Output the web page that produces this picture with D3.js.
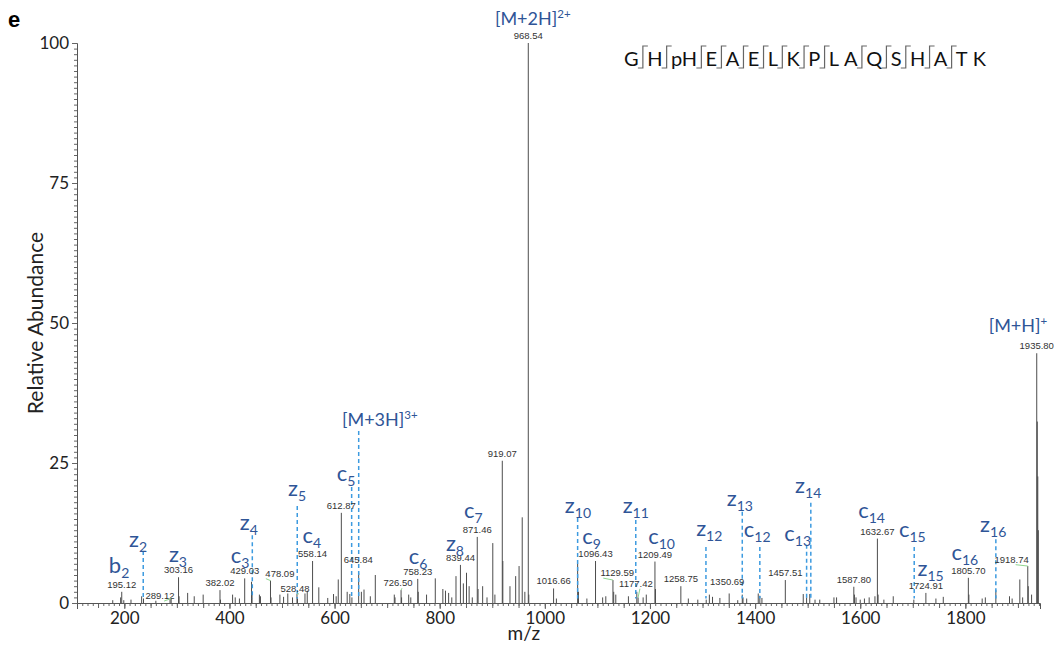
<!DOCTYPE html>
<html><head><meta charset="utf-8">
<script src="https://cdn.jsdelivr.net/npm/d3@7"></script>
<style>body{margin:0;background:#fff}</style>
</head><body>
<svg id="chart" width="1057" height="655"></svg>
<script>
// Centroided spectrum: [m/z, relative abundance]
const peaks = [
  [178,0.5],[193,1.0],[195.12,2.0],[199,0.5],[212.7,0.6],[233,1.2],[236.5,0.8],[260,0.4],[287,0.7],[289.12,0.8],
  [303.16,4.6],[304.2,1.2],[320.5,1.8],[333,1.2],[350,1.5],[382.02,2.3],[383,0.6],[406,1.5],[411,1.0],[419,0.8],
  [429.03,4.4],[442,3.8],[443,1.5],[457,1.5],[459,1.2],[478.09,4.0],[479.1,1.0],[496,1.5],[503,1.1],[511,1.7],
  [520,1.0],[528.48,1.6],[529.5,0.8],[543.7,1.7],[548,2.2],[558.14,7.5],[570,2.8],[587,0.9],[598,1.6],[603,1.2],
  [607,4.2],[612.87,16.1],[624,2.0],[629,1.6],[633,1.0],[645.84,5.4],[651,2.0],[656,2.4],[668,1.2],[677.5,5.0],
  [713.6,1.5],[715,1.0],[726.50,2.3],[727.5,1.0],[741,1.5],[745,1.0],[758.23,4.3],[759.2,2.0],[775,1.5],[791.6,4.4],
  [806,2.5],[811,2.2],[817,1.8],[823,1.0],[831,4.8],[839.44,6.8],[845,3.5],[851,5.4],[856,3.0],[862,1.0],
  [871.46,11.8],[873,2.5],[881.7,3.0],[890,1.0],[901,10.7],[905,1.5],[919.07,25.4],[920.1,7.5],[933.7,3.0],[944.5,4.8],
  [951,6.6],[957,15.3],[962,2.0],[968.54,100],[969.5,1.5],[1016.66,2.6],[1022,0.8],[1062.4,7.0],[1064,2.0],[1080,0.8],
  [1096.43,7.5],[1110,1.0],[1116,1.2],[1129.59,4.1],[1131,2.0],[1135,1.5],[1159,1.2],[1175,2.0],[1177.42,1.0],[1187,1.0],
  [1193,1.5],[1209.49,7.4],[1210.5,2.5],[1258.75,3.0],[1273,0.8],[1291,0.6],[1307,0.6],[1313,1.5],[1319,1.1],[1333,0.9],
  [1350.69,1.7],[1367,0.5],[1375.6,1.5],[1377,1.0],[1384,0.8],[1406,1.7],[1409,1.3],[1413,0.9],[1457.51,4.1],[1491.6,1.6],
  [1498,1.0],[1504,1.6],[1514,0.6],[1523,0.6],[1550,1.0],[1555,1.0],[1587.80,2.9],[1589,1.5],[1592,1.0],[1600,0.6],
  [1608,0.8],[1617,1.0],[1628,1.2],[1632.67,11.5],[1634,1.5],[1645,0.6],[1662.8,1.2],[1702,0.6],[1724.91,1.8],[1744,0.8],
  [1758,1.1],[1805.70,4.5],[1806.7,1.5],[1832,0.8],[1838,1.0],[1858,2.3],[1884,1.2],[1889,0.8],[1903.6,4.2],[1909,1.0],
  [1918.74,6.6],[1919.7,3.0],[1926,1.5],[1935.80,44.6],[1936.8,32.4],[1937.8,22.6],[1938.8,13.0]
];

// Peaks annotated with their m/z directly above the stick
const peakLabels = [195.12,303.16,382.02,429.03,558.14,612.87,758.23,839.44,871.46,919.07,968.54,
  1016.66,1096.43,1209.49,1258.75,1457.51,1587.80,1632.67,1724.91,1805.70,1935.80];

// Peaks whose m/z label is displaced: [peak m/z, label m/z, label abundance, leader line]
const shiftedLabels = [
  [289.12,268,0.7,true],[478.09,496,4.7,true],[528.48,524.7,2.0,true],[645.84,645.1,7.1,false],
  [726.50,720.6,3.0,true],[1129.59,1137.8,4.8,true],[1177.42,1173.3,2.9,true],[1350.69,1347,3.2,false],
  [1918.74,1888,7.2,true]
];

// Fragment ion assignments: [ion type, index, label m/z, label abundance]
const ionLabels = [
  ["b","2",190,5.4],["z","2",226,10.0],["z","3",302,7.3],["c","3",420,7.1],["z","4",437,13.0],
  ["z","5",528.5,19.1],["c","4",556.5,10.7],["c","5",621.7,21.8],["c","6",758.7,7.0],["z","8",829,9.2],
  ["c","7",863.9,15.2],["z","10",1063,16.1],["c","9",1089,10.5],["z","11",1173,16.1],["c","10",1222,10.5],
  ["z","12",1312.8,12.0],["z","13",1371,17.3],["c","12",1404,11.7],["c","13",1481,11.1],["z","14",1501,19.7],
  ["c","14",1621.7,15.2],["c","15",1699,11.8],["z","15",1734,4.8],["c","16",1799,7.7],["z","16",1853,12.7]
];

// Precursor charge states: [label, charge, label m/z, label abundance]
const precursorLabels = [
  ["[M+2H]","2+",977,103.2],["[M+3H]","3+",686,31.6],["[M+H]","+",1900,48.4]
];

// Dashed markers for assigned ions: [m/z, top abundance]
const ionMarkers = [
  [236,9.3],[443.5,12.1],[529,17.3],[632.5,20.7],[645.9,30.7],[1062.4,15.2],[1173,14.8],
  [1306.5,10.0],[1375.6,16.3],[1409,10.0],[1498,10.4],[1506,17.9],[1702.7,10.0],[1858,11.4]
];

// Peptide sequence and cleavage marks after each residue (1 = observed, 0 = none)
const residues = ["G","H","pH","E","A","E","L","K","P","L","A","Q","S","H","A","T","K"];
const cleavages = [1,1,1,1,1,1,1,1,1,0,1,1,1,1,1,0];

const xTickLabels = [200,400,600,800,1000,1200,1400,1600,1800];
const yTickLabels = [0,25,50,75,100];

const svg = d3.select("#chart");
const font = "Lato, 'Open Sans', sans-serif";
const blue = "#2f5597";

const x = d3.scaleLinear().domain([110, 1942]).range([77, 1040]);
const y = d3.scaleLinear().domain([0, 100]).range([603, 43]);

// Panel letter
svg.append("text").attr("x", 8).attr("y", 27).attr("font-family", "Arial, 'Liberation Sans', sans-serif")
  .attr("font-weight", "bold").attr("font-size", 22).text("e");

// Axes
const axisG = svg.append("g").attr("font-family", font);
const xMinor = axisG.append("g").attr("transform", `translate(0,${y(0)})`)
  .call(d3.axisBottom(x).tickValues(d3.range(120, 1941, 10)).tickSize(3).tickFormat(""));
const xMid = axisG.append("g").attr("transform", `translate(0,${y(0)})`)
  .call(d3.axisBottom(x).tickValues(d3.range(150, 1941, 50)).tickSize(5).tickFormat(""));
const xMajor = axisG.append("g").attr("transform", `translate(0,${y(0)})`)
  .call(d3.axisBottom(x).tickValues(xTickLabels).tickSize(6).tickPadding(3).tickFormat(d3.format("d")));
xMajor.selectAll("text").attr("font-size", 17).attr("fill", "#222").attr("font-family", font);

const yMinor = axisG.append("g").attr("transform", `translate(${x.range()[0]},0)`)
  .call(d3.axisLeft(y).tickValues(d3.range(0, 101, 1)).tickSize(3).tickFormat(""));
const yMajor = axisG.append("g").attr("transform", `translate(${x.range()[0]},0)`)
  .call(d3.axisLeft(y).tickValues(yTickLabels).tickSize(5).tickPadding(3));
yMajor.selectAll("text").attr("font-size", 17).attr("fill", "#222").attr("font-family", font).attr("dy", "0.35em");
axisG.selectAll("path.domain").attr("stroke", "#555");
axisG.selectAll(".tick line").attr("stroke", "#666");
[xMinor, xMid, yMinor].forEach(g => g.select("path.domain").remove());

svg.append("text").attr("x", x(960)).attr("y", 640).attr("text-anchor", "middle")
  .attr("font-family", font).attr("font-size", 19).attr("fill", "#222").text("m/z");
svg.append("text").attr("transform", `translate(43,${(y(0)+y(100))/2}) rotate(-90)`)
  .attr("text-anchor", "middle").attr("font-family", font).attr("font-size", 21).attr("fill", "#222")
  .text("Relative Abundance");

// Spectrum sticks
svg.append("g").selectAll("line").data(peaks).join("line")
  .attr("x1", d => x(d[0])).attr("x2", d => x(d[0]))
  .attr("y1", y(0)).attr("y2", d => y(d[1]))
  .attr("stroke", "#4d4d4d").attr("stroke-width", 1);

// Dashed ion markers
svg.append("g").selectAll("line").data(ionMarkers).join("line")
  .attr("x1", d => x(d[0])).attr("x2", d => x(d[0]))
  .attr("y1", d => y(d[1])).attr("y2", y(0.8))
  .attr("stroke", "#3d9be0").attr("stroke-width", 1.5).attr("stroke-dasharray", "4,3");

// m/z labels
const intensity = mz => peaks.find(p => p[0] === mz)[1];
const lblG = svg.append("g").attr("font-family", "Arial, 'Liberation Sans', sans-serif")
  .attr("font-size", 9.5).attr("fill", "#333").attr("text-anchor", "middle");
lblG.selectAll("text.pl").data(peakLabels).join("text").attr("class", "pl")
  .attr("x", d => x(d)).attr("y", d => y(intensity(d)) - 4).text(d => d.toFixed(2));
lblG.selectAll("text.sl").data(shiftedLabels).join("text").attr("class", "sl")
  .attr("x", d => x(d[1])).attr("y", d => y(d[2])).text(d => d[0].toFixed(2));
svg.append("g").selectAll("line").data(shiftedLabels.filter(d => d[3])).join("line")
  .attr("x1", d => x(d[1]) + (d[1] < d[0] ? 4 : -14)).attr("y1", d => y(d[2]) + 2)
  .attr("x2", d => x(d[0])).attr("y2", d => y(intensity(d[0])))
  .attr("stroke", "#8fd68f").attr("stroke-width", 1);

// Fragment ion labels with subscripts
const ionG = svg.append("g").attr("font-family", font).attr("fill", blue).attr("text-anchor", "middle");
ionLabels.forEach(d => {
  const t = ionG.append("text").attr("x", x(d[2])).attr("y", y(d[3]));
  t.append("tspan").attr("font-size", 22).text(d[0]);
  t.append("tspan").attr("font-size", 14).attr("dy", 5).text(d[1]);
});
precursorLabels.forEach(d => {
  const t = ionG.append("text").attr("x", x(d[2])).attr("y", y(d[3]));
  t.append("tspan").attr("font-size", 18).text(d[0]);
  t.append("tspan").attr("font-size", 11.5).attr("dy", -7).text(d[1]);
});

// Sequence with cleavage marks
const seqG = svg.append("g").attr("font-family", font).attr("font-size", 20).attr("fill", "#111");
let cx = 624;
const base = 66;
residues.forEach((r, i) => {
  const t = seqG.append("text").attr("x", cx).attr("y", base).text(r);
  cx += t.node().getComputedTextLength();
  if (i < cleavages.length) {
    if (cleavages[i]) {
      const mx = cx + 4.25;
      seqG.append("path")
        .attr("d", `M${mx - 5},${base + 2}H${mx}V${base - 20}H${mx + 5}`)
        .attr("fill", "none").attr("stroke", "#666").attr("stroke-width", 1.2);
      cx += 8.5;
    } else {
      cx += 5;
    }
  }
});
</script>
</body></html>
